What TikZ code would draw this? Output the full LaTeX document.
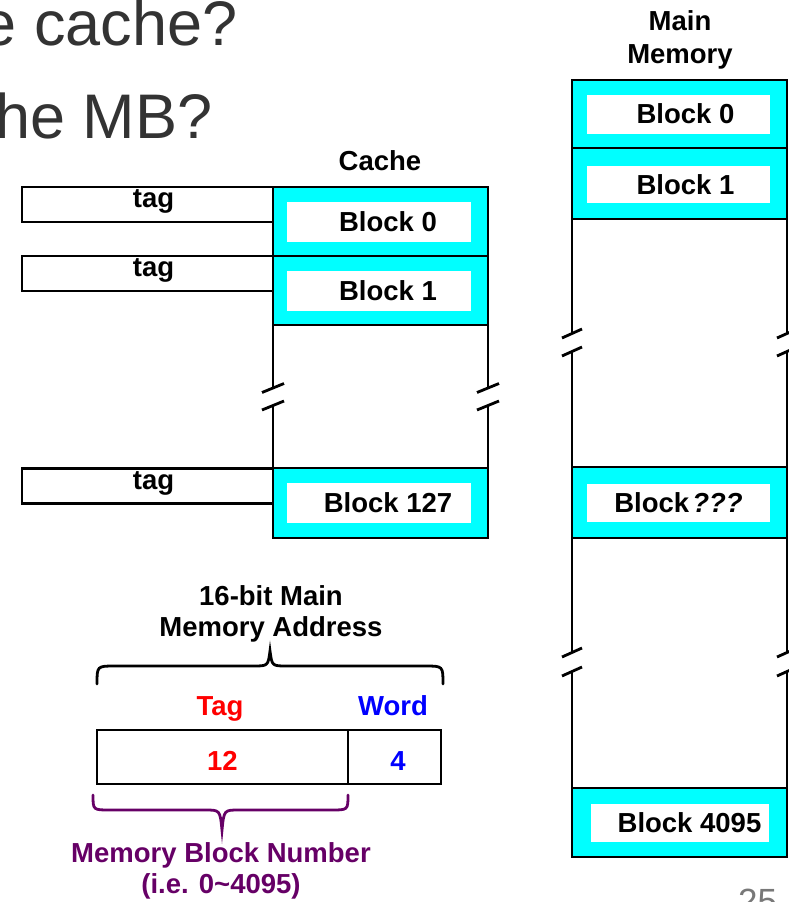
\documentclass[tikz,border=0pt]{standalone}
\usepackage{fontspec}
\setmainfont{Liberation Sans}
\definecolor{cy}{RGB}{0,255,255}
\definecolor{ttl}{RGB}{51,51,51}
\definecolor{pgn}{RGB}{120,120,120}
\definecolor{purp}{RGB}{102,0,102}
\definecolor{rd}{RGB}{255,0,0}
\definecolor{bl}{RGB}{0,0,255}
\begin{document}
\begin{tikzpicture}[x=1pt,y=-1pt,
  lbl/.style={font=\fontsize{27.5}{31}\selectfont\bfseries, inner sep=0pt, align=center},
  frame/.style={draw=black, line width=2.8pt},
  blk/.style={draw=black, line width=2.8pt, fill=cy, minimum width=215pt, inner sep=0pt, outer sep=0pt},
  inbox/.style={fill=white, minimum width=184pt, minimum height=40pt, inner sep=0pt},
  btext/.style={font=\fontsize{27.5}{31}\selectfont\bfseries, inner sep=0pt, text depth=0pt},
  tagbox/.style={draw=black, line width=2.8pt, fill=white, minimum width=251pt, minimum height=35pt, inner sep=0pt},
  tagtext/.style={font=\fontsize{27.5}{31}\selectfont\bfseries, inner sep=0pt, anchor=base},
  field/.style={draw=black, line width=2.8pt, minimum height=54pt, inner sep=0pt,
    font=\fontsize{27.5}{31}\selectfont\bfseries, text height=26pt, text depth=0pt},
  brk/.style={line width=2.8pt},
  brace/.style={line width=2.8pt, line cap=round}
]
\useasboundingbox (0,0) rectangle (789,902);

% slide heading fragments
\node[anchor=base west, inner sep=0pt, font=\fontsize{63}{70}\selectfont, text=ttl] (q1) at (-18.5,45) {e cache?};
\node[anchor=base west, inner sep=0pt, font=\fontsize{63}{70}\selectfont, text=ttl] (q2) at (-5,138) {he MB?};

% ---------------- cache ----------------
\node[lbl, anchor=base] (cachelbl) at (380,170) {Cache};

\node[tagbox] (t0) at (147.5,204.5) {};
\node[tagbox] (t1) at (147.5,273.5) {};
\node[tagbox] (t127) at (147.5,486) {};
\foreach \t in {t0,t1,t127}{
  \node[tagtext] (\t l) at ([xshift=6pt,yshift=-3pt]\t.center) {tag};
}

\node[blk, minimum height=69pt] (c0) at (380.5,221.5) {};
\node[blk, minimum height=69pt] (c1) at (380.5,290.5) {};
\node[blk, minimum height=70pt] (c127) at (380.5,503) {};
\foreach \b/\t in {c0/Block 0, c1/Block 1, c127/Block 127}{
  \node[inbox] (\b i) at ([xshift=-1.5pt]\b) {};
  \node[btext] (\b t) at ([xshift=9pt]\b i) {\t};
}

% cache side walls with break marks
\coordinate (cLa) at (273,388);  \coordinate (cLb) at (273,405.5);
\coordinate (cRa) at (488,388);  \coordinate (cRb) at (488,405.5);
\draw[frame] (c1.south west) -- (cLa);
\draw[frame] (cLb) -- (c127.north west);
\draw[frame] (c1.south east) -- (cRa);
\draw[frame] (cRb) -- (c127.north east);
\foreach \p in {cLa,cLb,cRa,cRb}{
  \draw[brk] ([shift={(-11,4.5)}]\p) -- ([shift={(11,-4.5)}]\p);
}

% ---------------- main memory ----------------
\node[lbl, anchor=base] (mmlbl) at (680,63) {Main\\[2pt]Memory};

\node[blk, minimum height=68pt] (m0) at (679.5,114) {};
\node[blk, minimum height=71pt] (m1) at (679.5,183.5) {};
\node[blk, minimum height=71pt] (mq) at (679.5,502.5) {};
\node[blk, minimum height=69pt] (mlast) at (679.5,822.5) {};

\node[inbox, minimum width=183pt, minimum height=39pt] (m0i) at ([xshift=-1pt]m0) {};
\node[btext] (m0t) at ([xshift=7pt]m0i) {Block 0};
\node[inbox, minimum width=183pt, minimum height=37pt] (m1i) at ([xshift=-1pt,yshift=-1pt]m1) {};
\node[btext] (m1t) at ([xshift=7pt]m1i) {Block 1};
\node[inbox, minimum width=183pt, minimum height=38pt] (mqi) at ([xshift=-1pt]mq) {};
\node[btext] (mqt) at (mqi) {Block\hspace{3pt}\textit{???}};
\node[inbox, minimum width=178pt, minimum height=38pt] (mlasti) at (mlast) {};
\node[btext] (mlastt) at ([xshift=10pt]mlasti) {Block 4095};

% main memory side walls with break marks
\coordinate (mLa) at (572,333.5); \coordinate (mLb) at (572,351.5);
\coordinate (mLc) at (572,652.5); \coordinate (mLd) at (572,671.5);
\coordinate (mRa) at (787,333.5); \coordinate (mRb) at (787,351.5);
\coordinate (mRc) at (787,652.5); \coordinate (mRd) at (787,671.5);
\draw[frame] (m1.south west) -- (mLa);
\draw[frame] (mLb) -- (mq.north west);
\draw[frame] (mq.south west) -- (mLc);
\draw[frame] (mLd) -- (mlast.north west);
\draw[frame] (m1.south east) -- (mRa);
\draw[frame] (mRb) -- (mq.north east);
\draw[frame] (mq.south east) -- (mRc);
\draw[frame] (mRd) -- (mlast.north east);
\foreach \p in {mLa,mLb,mLc,mLd,mRa,mRb,mRc,mRd}{
  \draw[brk] ([shift={(-10,4.5)}]\p) -- ([shift={(10,-4.5)}]\p);
}

% ---------------- address format ----------------
\node[lbl, anchor=base] (addrlbl) at (271,636) {16-bit Main\\[0pt]Memory Address};
\draw[brace] (97,684) .. controls (97,666) .. (115,666) -- (253,666)
  .. controls (268,666) .. (270,651) .. controls (272,666) .. (287,666)
  -- (425,666) .. controls (443,666) .. (443,684);

\node[lbl, text=rd, anchor=base] (taglbl) at (220,715) {Tag};
\node[lbl, text=bl, anchor=base] (wordlbl) at (393,715) {Word};

\node[field, minimum width=251pt, text=rd] (fT) at (222.5,757) {12};
\node[field, minimum width=93pt, text=bl] (fW) at (394.5,757) {\hspace{7pt}4};

\draw[brace, draw=purp] (93,795) .. controls (93,810) .. (110,810) -- (205,810)
  .. controls (220,810) .. (222,830) .. controls (224,810) .. (239,810)
  -- (331,810) .. controls (348,810) .. (348,795);
\node[lbl, text=purp, anchor=base] (mbn) at (221,893) {Memory Block Number\\[0pt](i.e. 0\textasciitilde 4095)};

% page number
\node[anchor=base west, inner sep=0pt, font=\fontsize{35}{40}\selectfont, text=pgn] (pg) at (738,913) {25};
\end{tikzpicture}
\end{document}
